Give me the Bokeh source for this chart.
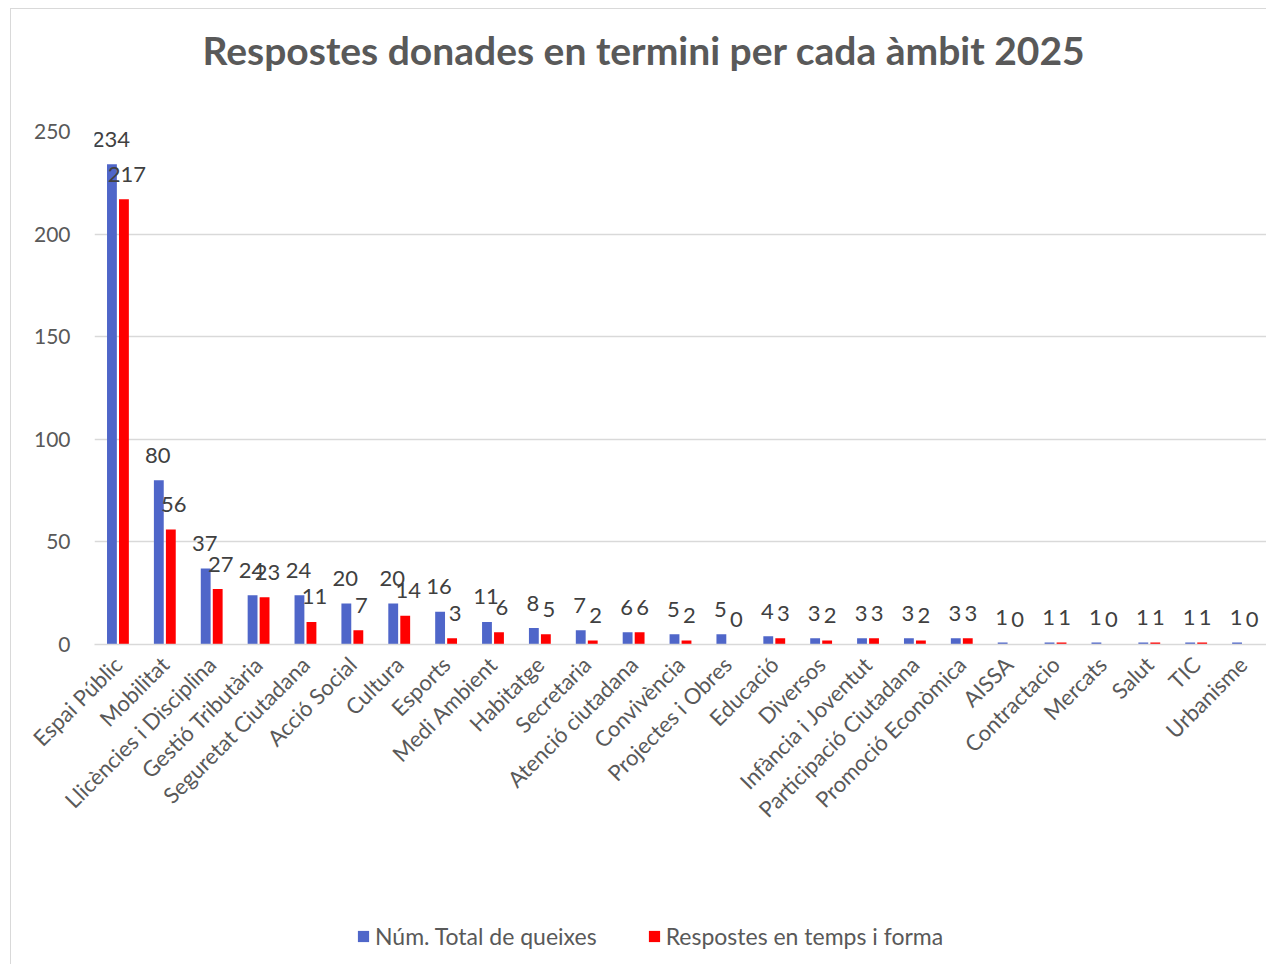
import math
from bokeh.plotting import figure
from bokeh.layouts import column
from bokeh.models import ColumnDataSource, LabelSet, Legend, LegendItem, Range1d, FixedTicker
from bokeh.core.properties import value
from bokeh.transform import dodge
from bokeh.embed import file_html
from bokeh.resources import INLINE

categories = ["Espai Públic", "Mobilitat", "Llicències i Disciplina", "Gestió Tributària",
              "Seguretat Ciutadana", "Acció Social", "Cultura", "Esports", "Medi Ambient",
              "Habitatge", "Secretaria", "Atenció ciutadana", "Convivència", "Projectes i Obres",
              "Educació", "Diversos", "Infància i Joventut", "Participació Ciutadana",
              "Promoció Econòmica", "AISSA", "Contractacio", "Mercats", "Salut", "TIC", "Urbanisme"]
total_queixes = [234, 80, 37, 24, 24, 20, 20, 16, 11, 8, 7, 6, 5, 5, 4, 3, 3, 3, 3, 1, 1, 1, 1, 1, 1]
respostes = [217, 56, 27, 23, 11, 7, 14, 3, 6, 5, 2, 6, 2, 0, 3, 2, 3, 2, 3, 0, 1, 0, 1, 1, 0]
series_names = ["Núm. Total de queixes", "Respostes en temps i forma"]
y_ticks = [0, 50, 100, 150, 200, 250]
title_text = "Respostes donades en termini per cada àmbit 2025"

BLUE = "#4F66C9"
RED = "#FF0000"
FONT = "Lato"

src = ColumnDataSource(dict(cat=categories, a=total_queixes, b=respostes,
                            la=[str(v) for v in total_queixes], lb=[str(v) for v in respostes]))

# ---- title strip ----
pt = figure(width=1182, height=90, output_backend="svg", toolbar_location=None,
            x_range=Range1d(0, 1), y_range=Range1d(0, 1),
            x_axis_location=None, y_axis_location=None,
            min_border_left=0, min_border_right=0, min_border_top=0, min_border_bottom=0)
pt.grid.visible = False
pt.outline_line_color = None
pt.title.text = title_text
pt.title.align = "center"
pt.title.text_font = FONT
pt.title.text_font_size = "39px"
pt.title.text_font_style = "bold"
pt.title.text_color = "#595959"
pt.title.standoff = 31

# ---- main chart ----
p = figure(x_range=categories, y_range=Range1d(0, 250), width=1255, height=805,
           output_backend="svg", toolbar_location=None,
           min_border_left=83, min_border_right=0, min_border_top=32, min_border_bottom=260)

r1 = p.vbar(x=dodge("cat", -0.128, range=p.x_range), top="a", width=0.21, source=src,
            fill_color=BLUE, line_color=None)
r2 = p.vbar(x=dodge("cat", 0.128, range=p.x_range), top="b", width=0.21, source=src,
            fill_color=RED, line_color=None)

for col, lab, off, xo in (("a", "la", -0.128, -1), ("b", "lb", 0.128, 3)):
    ls = LabelSet(x=dodge("cat", off, range=p.x_range), y=col, text=lab, source=src,
                  text_align="center", text_baseline="middle", y_offset=25, x_offset=xo,
                  text_font=value(FONT), text_font_size=value("22px"), text_color="#404040")
    p.add_layout(ls)

p.outline_line_color = None
p.xgrid.grid_line_color = None
p.ygrid.grid_line_color = "#d9d9d9"
p.ygrid.grid_line_width = 1.5

p.yaxis.ticker = FixedTicker(ticks=y_ticks)
p.yaxis.axis_line_color = None
p.yaxis.major_tick_line_color = None
p.yaxis.minor_tick_line_color = None
p.yaxis.major_label_text_font = FONT
p.yaxis.major_label_text_font_size = "21px"
p.yaxis.major_label_text_color = "#595959"
p.yaxis.major_label_standoff = 18

p.xaxis.axis_line_color = "#d9d9d9"
p.xaxis.axis_line_width = 1.5
p.xaxis.major_tick_line_color = None
p.xaxis.minor_tick_line_color = None
p.xaxis.major_label_orientation = math.pi / 4
p.xaxis.major_label_text_font = FONT
p.xaxis.major_label_text_font_size = "22px"
p.xaxis.major_label_text_color = "#595959"
p.xaxis.major_label_standoff = 10

# ---- legend strip (hidden proxies of the same series) ----
pl = figure(width=1255, height=60, output_backend="svg", toolbar_location=None,
            x_range=categories, y_range=Range1d(0, 250),
            x_axis_location=None, y_axis_location=None,
            min_border_left=0, min_border_right=0, min_border_top=0, min_border_bottom=0)
pl.grid.visible = False
pl.outline_line_color = None
g1 = pl.vbar(x=dodge("cat", -0.128, range=pl.x_range), top="a", width=0.21, source=src,
             fill_color=BLUE, line_color=None, visible=False)
g2 = pl.vbar(x=dodge("cat", 0.128, range=pl.x_range), top="b", width=0.21, source=src,
             fill_color=RED, line_color=None, visible=False)
legend = Legend(items=[LegendItem(label=series_names[0], renderers=[g1]),
                       LegendItem(label=series_names[1], renderers=[g2])],
                orientation="horizontal", location=(262, 14),
                glyph_width=14, glyph_height=14, label_standoff=5, spacing=50,
                label_text_font=FONT, label_text_font_size="23px", label_text_color="#595959",
                background_fill_alpha=0, border_line_color=None, padding=0, margin=0)
pl.add_layout(legend)

layout = column(pt, p, pl, spacing=0)
layout.margin = (8, 0, 0, 10)
layout.styles = {"border-top": "1px solid #d9d9d9", "border-left": "1px solid #d9d9d9"}

open("out.html", "w").write(file_html(layout, INLINE))
